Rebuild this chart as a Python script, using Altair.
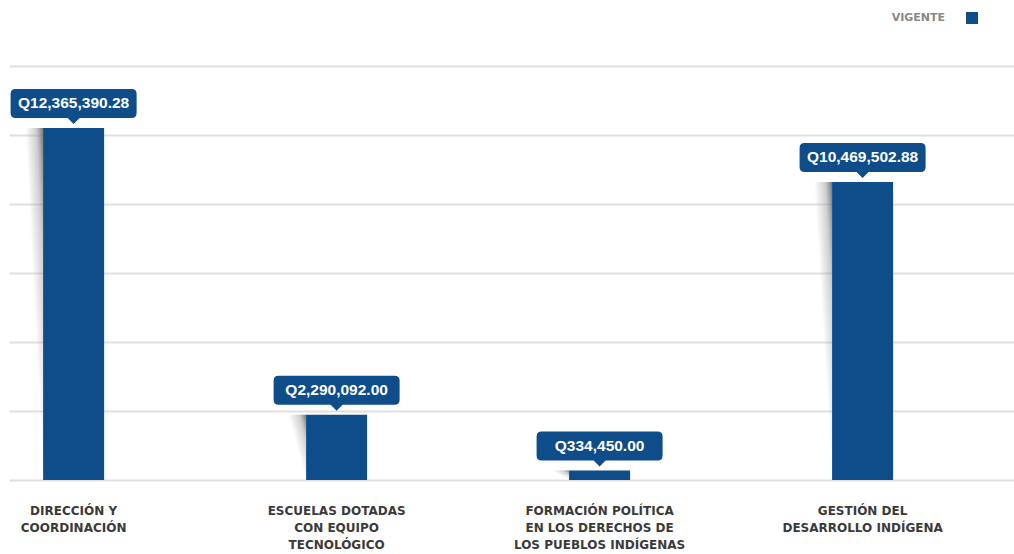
import altair as alt
import pandas as pd

categories = [
    "DIRECCIÓN Y\nCOORDINACIÓN",
    "ESCUELAS DOTADAS\nCON EQUIPO\nTECNOLÓGICO",
    "FORMACIÓN POLÍTICA\nEN LOS DERECHOS DE\nLOS PUEBLOS INDÍGENAS",
    "GESTIÓN DEL\nDESARROLLO INDÍGENA",
]
vigente = [12365390.28, 2290092.00, 334450.00, 10469502.88]
value_labels = ["Q12,365,390.28", "Q2,290,092.00", "Q334,450.00", "Q10,469,502.88"]
series_name = ["VIGENTE"]
grid_values = [0, 2423833, 4847667, 7271500, 9695333, 12119167, 14543000]

BLUE = "#0e4d8a"

df = pd.DataFrame({"cat": categories, "value": vigente, "label": value_labels})

xscale = alt.Scale(domain=categories, paddingInner=0.768, paddingOuter=0.2947, align=0.22)
yscale = alt.Scale(domain=[0, 14543000], nice=False, zero=True)

x_enc = alt.X(
    "cat:N",
    scale=xscale,
    sort=None,
    axis=alt.Axis(
        title=None,
        labelAngle=0,
        domain=False,
        ticks=False,
        grid=False,
        labelExpr="split(datum.label, '\\n')",
        labelFont="DejaVu Sans",
        labelFontWeight="bold",
        labelFontSize=12,
        labelColor="#3a3a3a",
        labelPadding=25,
        labelLineHeight=17,
        labelBaseline="top",
        labelLimit=400,
    ),
)
y_enc = alt.Y(
    "value:Q",
    scale=yscale,
    axis=alt.Axis(
        title=None,
        labels=False,
        ticks=False,
        domain=False,
        values=grid_values,
        grid=True,
        gridColor="#e0e0e0",
        gridWidth=2,
    ),
)

base = alt.Chart(df)

shadow_fill = {
    "gradient": "linear",
    "x1": 0, "y1": 1, "x2": 1, "y2": 0,
    "stops": [
        {"offset": 0, "color": "rgba(150,150,150,0)"},
        {"offset": 0.5, "color": "rgba(150,150,150,0)"},
        {"offset": 0.8, "color": "rgba(150,150,150,0.45)"},
        {"offset": 1, "color": "rgba(100,100,100,0.9)"},
    ],
}

shadow = base.mark_bar(width=18, xOffset=-39.5, fill=shadow_fill).encode(x=x_enc, y=y_enc)
bars = base.mark_bar(color=BLUE).encode(x=x_enc, y=y_enc)

callout_path = (
    "M -5.8 -1.0 L -0.6 -1.0 L 0 -0.4 L 0.6 -1.0 L 5.8 -1.0 "
    "Q 6.3 -1.0 6.3 -1.5 L 6.3 -3.4 Q 6.3 -3.9 5.8 -3.9 "
    "L -5.8 -3.9 Q -6.3 -3.9 -6.3 -3.4 L -6.3 -1.5 Q -6.3 -1.0 -5.8 -1.0 Z"
)
callouts = base.mark_point(
    shape=callout_path, size=400, filled=True, fill=BLUE, opacity=1, strokeWidth=0
).encode(x=alt.X("cat:N", scale=xscale, sort=None), y=alt.Y("value:Q", scale=yscale))

texts = base.mark_text(
    dy=-24.5,
    baseline="middle",
    align="center",
    color="white",
    font="Liberation Sans",
    fontWeight="bold",
    fontSize=15.5,
).encode(x=alt.X("cat:N", scale=xscale, sort=None), y=alt.Y("value:Q", scale=yscale), text="label:N")

legend_df = pd.DataFrame({"name": series_name})
legend_text = alt.Chart(legend_df).mark_text(
    align="right", baseline="middle", color="#888888", font="DejaVu Sans", fontSize=11, fontWeight="bold"
).encode(x=alt.value(936), y=alt.value(-48), text="name:N")
legend_sq = alt.Chart(legend_df).mark_square(size=144, color=BLUE, opacity=1).encode(
    x=alt.value(963), y=alt.value(-48)
)

chart = (
    alt.layer(shadow, bars, callouts, texts, legend_text, legend_sq)
    .properties(
        width=1005,
        height=414,
        autosize=alt.AutoSizeParams(type="none"),
        padding={"left": 9, "top": 66, "right": 0, "bottom": 74},
        background="white",
    )
    .configure_view(stroke=None)
)

chart.save("out.html", embed_options={"renderer": "svg", "actions": False})
